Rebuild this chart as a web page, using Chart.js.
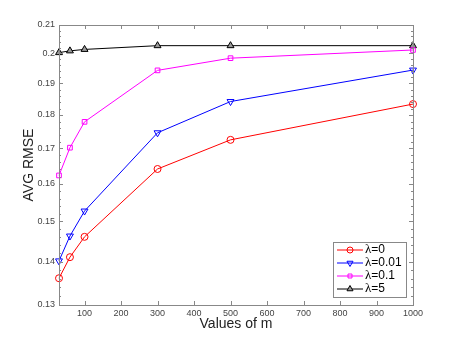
<!DOCTYPE html>
<html>
<head>
<meta charset="utf-8">
<script src="https://cdn.jsdelivr.net/npm/chart.js@4/dist/chart.umd.min.js"></script>
<style>
  body { margin: 0; background: #fff; }
</style>
</head>
<body>
<canvas id="c" width="457" height="343"></canvas>
<script>
// data
const mValues = [30, 60, 100, 300, 500, 1000];
const rmseLambda0 = [0.1361, 0.1411, 0.1461, 0.1641, 0.1725, 0.1834];
const rmseLambda001 = [0.1402, 0.1463, 0.1527, 0.1746, 0.1842, 0.1944];
const rmseLambda01 = [0.1623, 0.1702, 0.1779, 0.1943, 0.1984, 0.2012];
const rmseLambda5 = [0.2003, 0.2009, 0.2014, 0.2027, 0.2027, 0.2027];
const seriesLabels = ["λ=0", "λ=0.01", "λ=0.1", "λ=5"];

const xTicks = [100, 200, 300, 400, 500, 600, 700, 800, 900, 1000];
const yTicks = [0.13, 0.14, 0.15, 0.16, 0.17, 0.18, 0.19, 0.2, 0.21];
const yTickLabels = ["0.13", "0.14", "0.15", "0.16", "0.17", "0.18", "0.19", "0.2", "0.21"];

const toPoints = (ys) => mValues.map((m, i) => ({ x: m, y: ys[i] }));

const AXIS_COLOR = "#888";

// box + inward ticks on all four sides, like matlab
const matlabAxes = {
    id: "matlabAxes",
    afterDraw(chart) {
        const ctx = chart.ctx;
        const a = chart.chartArea;
        const xs = chart.scales.x, ys = chart.scales.y;
        ctx.save();
        ctx.strokeStyle = AXIS_COLOR;
        ctx.lineWidth = 1;
        ctx.beginPath();
        xTicks.forEach(v => {
            const px = Math.round(xs.getPixelForValue(v)) + 0.5;
            ctx.moveTo(px, a.bottom); ctx.lineTo(px, a.bottom - 4);
            ctx.moveTo(px, a.top); ctx.lineTo(px, a.top + 4);
        });
        for (let k = 0; k <= 40; k++) {
            const v = 0.13 + k * 0.002;
            const len = k % 5 === 0 ? 4 : 2;
            const py = Math.round(ys.getPixelForValue(v)) + 0.5;
            ctx.moveTo(a.left, py); ctx.lineTo(a.left + len, py);
            ctx.moveTo(a.right, py); ctx.lineTo(a.right - len, py);
        }
        ctx.stroke();
        ctx.strokeRect(Math.round(a.left) + 0.5, Math.round(a.top) + 0.5,
            Math.round(a.right - a.left), Math.round(a.bottom - a.top));
        ctx.restore();
    }
};

// legend box inside the bottom right corner
const insideLegend = {
    id: "insideLegend",
    afterDraw(chart) {
        const ctx = chart.ctx;
        const a = chart.chartArea;
        const w = 73, h = 55;
        const x0 = a.right - 7 - w, y0 = a.bottom - 8 - h;
        ctx.save();
        ctx.fillStyle = "#fff";
        ctx.fillRect(x0, y0, w, h);
        ctx.strokeStyle = AXIS_COLOR;
        ctx.lineWidth = 1;
        ctx.strokeRect(Math.round(x0) + 0.5, Math.round(y0) + 0.5, w, h);
        chart.data.datasets.forEach((ds, i) => {
            const cy = y0 + 8 + i * 13;
            ctx.strokeStyle = ds.borderColor;
            ctx.lineWidth = 1;
            ctx.beginPath();
            ctx.moveTo(x0 + 4, cy); ctx.lineTo(x0 + 30, cy);
            ctx.stroke();
            ctx.fillStyle = ds.pointBackgroundColor;
            Chart.helpers.drawPoint(ctx, {
                pointStyle: ds.pointStyle,
                rotation: ds.pointRotation || 0,
                radius: ds.pointRadius - 0.5,
                borderWidth: 1
            }, x0 + 17, cy);
            ctx.fillStyle = "#000";
            ctx.textBaseline = "middle";
            ctx.font = "13px 'Liberation Serif'";
            ctx.fillText(ds.label.charAt(0), x0 + 32, cy);
            const lw = ctx.measureText(ds.label.charAt(0)).width;
            ctx.font = "12px 'Liberation Sans'";
            ctx.fillText(ds.label.slice(1), x0 + 32 + lw, cy);
        });
        ctx.restore();
    }
};

const makeSet = (label, ys, color, style, radius, rot, fill) => ({
    label: label,
    data: toPoints(ys),
    borderColor: color,
    backgroundColor: fill,
    pointBorderColor: color,
    pointBackgroundColor: fill,
    pointStyle: style,
    pointRotation: rot,
    pointRadius: radius,
    pointBorderWidth: 1,
    borderWidth: 1,
    tension: 0,
    clip: false
});

new Chart(document.getElementById("c"), {
    type: "line",
    data: {
        datasets: [
            makeSet(seriesLabels[0], rmseLambda0, "#ff0000", "circle", 3.5, 0, "rgba(0,0,0,0)"),
            makeSet(seriesLabels[1], rmseLambda001, "#0000ff", "triangle", 4, 180, "rgba(0,0,0,0)"),
            makeSet(seriesLabels[2], rmseLambda01, "#ff00ff", "rect", 3.3, 0, "rgba(0,0,0,0)"),
            makeSet(seriesLabels[3], rmseLambda5, "#000000", "triangle", 4, 0, "#999")
        ]
    },
    options: {
        responsive: false,
        animation: false,
        layout: { padding: { left: 17, right: 44, top: 25, bottom: 6 } },
        plugins: { legend: { display: false }, tooltip: { enabled: false } },
        scales: {
            x: {
                type: "linear",
                min: 30,
                max: 1000,
                afterBuildTicks: (s) => { s.ticks = xTicks.map(v => ({ value: v })); },
                afterFit: (s) => { s.height = 32; },
                grid: { display: false, drawTicks: false },
                border: { display: false },
                ticks: {
                    padding: 3,
                    color: "#444",
                    font: { family: "Liberation Sans", size: 9 },
                    maxRotation: 0,
                    autoSkip: false,
                    callback: (v) => String(v)
                },
                title: {
                    display: true,
                    text: "Values of m",
                    color: "#222",
                    font: { family: "Liberation Sans", size: 14 },
                    padding: { top: 4, bottom: 4 }
                }
            },
            y: {
                type: "logarithmic",
                min: 0.13,
                max: 0.21,
                afterBuildTicks: (s) => { s.ticks = yTicks.map(v => ({ value: v })); },
                afterFit: (s) => { s.width = 42; },
                grid: { display: false, drawTicks: false },
                border: { display: false },
                ticks: {
                    padding: 4,
                    color: "#444",
                    font: { family: "Liberation Sans", size: 9 },
                    autoSkip: false,
                    callback: (v) => {
                        const i = yTicks.indexOf(v);
                        return i >= 0 ? yTickLabels[i] : "";
                    }
                },
                title: {
                    display: true,
                    text: "AVG RMSE",
                    color: "#222",
                    font: { family: "Liberation Sans", size: 14 },
                    padding: { top: 4, bottom: 4 }
                }
            }
        }
    },
    plugins: [matlabAxes, insideLegend]
});
</script>
</body>
</html>
